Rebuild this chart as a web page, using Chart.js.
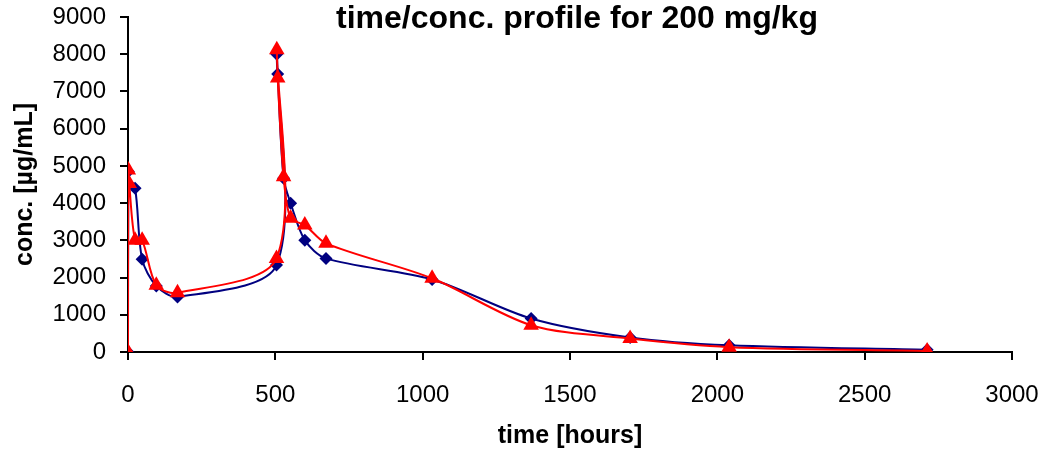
<!DOCTYPE html>
<html>
<head>
<meta charset="utf-8">
<script src="https://cdn.jsdelivr.net/npm/chart.js@4/dist/chart.umd.min.js"></script>
<style>
  body { margin: 0; background: #fff; }
  #wrap { width: 1039px; height: 451px; }
</style>
</head>
<body>
<div id="wrap"><canvas id="myChart" width="1039" height="451"></canvas></div>
<script>
const times = [0, 1, 4, 24, 48, 96, 168, 504, 505, 508, 528, 552, 600, 672, 1032, 1368, 1704, 2040, 2712];
const series1 = [0, 4850, 4500, 4400, 2490, 1775, 1480, 2335, 8000, 7470, 4670, 3995, 3005, 2515, 1950, 900, 390, 180, 60];
const series2 = [0, 4890, 4530, 3005, 3000, 1795, 1590, 2515, 8120, 7360, 4710, 3590, 3410, 2920, 1980, 720, 360, 130, 30];
const xTicks = [0, 500, 1000, 1500, 2000, 2500, 3000];
const yTicks = [0, 1000, 2000, 3000, 4000, 5000, 6000, 7000, 8000, 9000];

const titleText = "time/conc. profile for 200 mg/kg";

const toPoints = (xs, ys) => xs.map((x, i) => ({ x: x, y: ys[i] }));

// title overlaps the plot area in the original, so draw it by hand
const topTitle = {
  id: "topTitle",
  afterDraw(chart) {
    const c = chart.ctx;
    c.save();
    c.font = "bold 32px 'Liberation Sans', Arial, sans-serif";
    c.fillStyle = "#000";
    c.textAlign = "center";
    c.textBaseline = "middle";
    c.fillText(titleText, 577, 19);
    c.restore();
  },
};

const ctx = document.getElementById("myChart").getContext("2d");

const chart = new Chart(ctx, {
  type: "scatter",
  data: {
    datasets: [
      {
        label: "Series 2",
        data: toPoints(times, series2),
        showLine: true,
        borderColor: "#ff0000",
        backgroundColor: "#ff0000",
        borderWidth: 2,
        tension: 0.3,
        pointStyle: "triangle",
        pointRadius: 9,
        pointBorderWidth: 0,
        order: 0,
      },
      {
        label: "Series 1",
        data: toPoints(times, series1),
        showLine: true,
        borderColor: "#000080",
        backgroundColor: "#000080",
        borderWidth: 2,
        tension: 0.3,
        pointStyle: "rectRot",
        pointRadius: 6.5,
        pointBorderWidth: 0,
        order: 1,
      },
    ],
  },
  options: {
    responsive: false,
    animation: false,
    layout: { padding: { top: 17, right: 27, left: 0, bottom: 0 } },
    plugins: {
      legend: { display: false },
      tooltip: { enabled: false },
    },
    scales: {
      x: {
        type: "linear",
        min: 0,
        max: 3000,
        afterBuildTicks: (s) => { s.ticks = xTicks.map((v) => ({ value: v })); },
        afterFit: (s) => {
          s.height = 99;
          s.paddingLeft = 0;
          s.paddingRight = 0;
        },
        ticks: {
          color: "#000",
          font: { family: "'Liberation Sans', Arial, sans-serif", size: 24 },
          padding: 21,
          maxRotation: 0,
          callback: (v) => String(v),
        },
        grid: { drawOnChartArea: false, tickLength: 8, color: "#000", lineWidth: 2 },
        border: { display: true, color: "#000", width: 2 },
        title: {
          display: true,
          text: "time [hours]",
          color: "#000",
          font: { family: "'Liberation Sans', Arial, sans-serif", size: 25, weight: "bold" },
          padding: { top: 0, bottom: 0 },
        },
      },
      y: {
        min: 0,
        max: 9000,
        afterBuildTicks: (s) => { s.ticks = yTicks.map((v) => ({ value: v })); },
        afterFit: (s) => {
          s.width = 128;
          s.paddingTop = 0;
          s.paddingBottom = 0;
        },
        ticks: {
          color: "#000",
          font: { family: "'Liberation Sans', Arial, sans-serif", size: 24 },
          padding: 14,
          callback: (v) => String(v),
        },
        grid: { drawOnChartArea: false, tickLength: 8, color: "#000", lineWidth: 2 },
        border: { display: true, color: "#000", width: 2 },
        title: {
          display: true,
          text: "conc. [µg/mL]",
          color: "#000",
          font: { family: "'Liberation Sans', Arial, sans-serif", size: 25, weight: "bold" },
          padding: { top: 10, bottom: 0 },
        },
      },
    },
  },
  plugins: [topTitle],
});
</script>
</body>
</html>
